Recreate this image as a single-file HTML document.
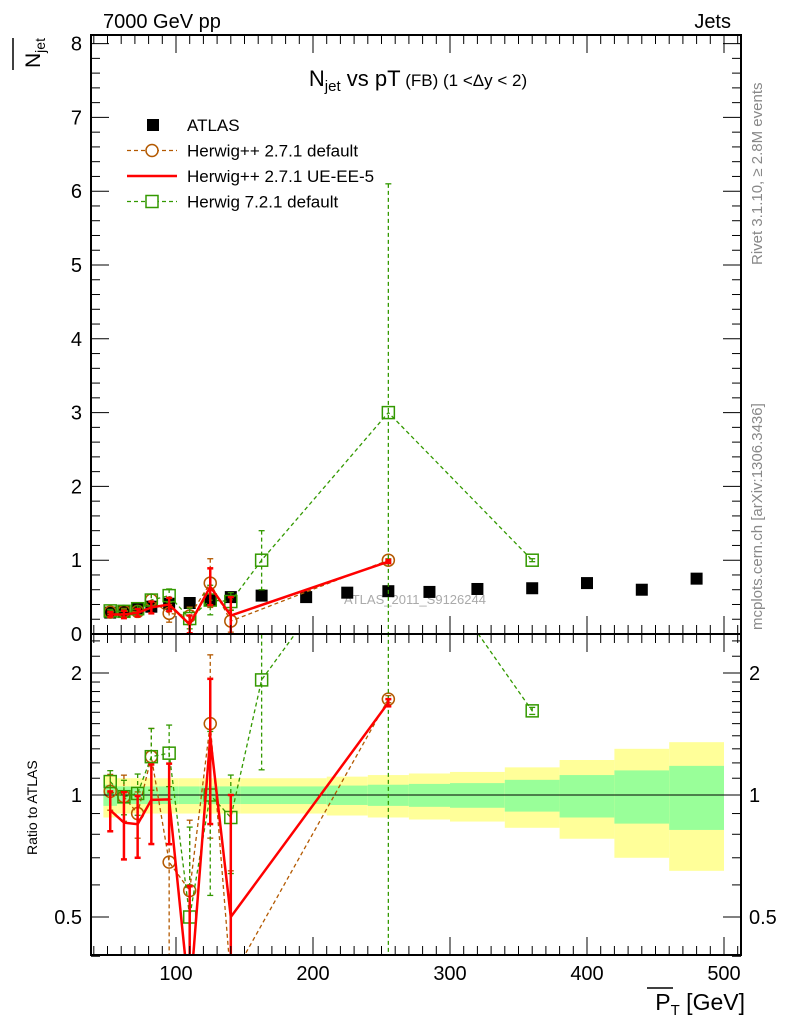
<!DOCTYPE html>
<html><head><meta charset="utf-8">
<style>
html,body{margin:0;padding:0;background:#fff;width:786px;height:1024px;overflow:hidden;}
svg{display:block;font-family:"Liberation Sans",sans-serif;}
</style></head>
<body>
<svg id="c" width="786" height="1024" viewBox="0 0 786 1024">
<defs>
<clipPath id="cm"><rect x="91" y="35" width="650" height="599"/></clipPath>
<clipPath id="cr"><rect x="91" y="634" width="650" height="321"/></clipPath>
</defs>
<text x="103" y="28" font-size="20">7000 GeV pp</text>
<text x="731" y="28" font-size="20" text-anchor="end">Jets</text>
<g>
<text transform="translate(40,68) rotate(-90)" font-size="21">N<tspan font-size="14" dy="5">jet</tspan></text>
<line x1="13" y1="38" x2="13" y2="70" stroke="#000" stroke-width="1.5"/>
</g>
<text transform="translate(762,265) rotate(-90)" font-size="15" fill="#888">Rivet 3.1.10, ≥ 2.8M events</text>
<text transform="translate(762,630) rotate(-90)" font-size="15" fill="#888">mcplots.cern.ch [arXiv:1306.3436]</text>
<text x="418" y="86" font-size="22" text-anchor="middle">N<tspan font-size="15" dy="5">jet</tspan><tspan dy="-5"> vs pT</tspan><tspan font-size="17"> (FB) (1 &lt;Δy &lt; 2)</tspan></text>
<text x="415" y="604" font-size="13" fill="#aaa" text-anchor="middle">ATLAS_2011_S9126244</text>
<text transform="translate(37,855) rotate(-90)" font-size="14">Ratio to ATLAS</text>
<g>
<text x="745" y="1010" font-size="23" text-anchor="end">P<tspan font-size="15" dy="5">T</tspan><tspan dy="-5"> [GeV]</tspan></text>
<line x1="647" y1="988" x2="673" y2="988" stroke="#000" stroke-width="1.5"/>
</g>
<g id="bands" clip-path="url(#cr)"></g>
<g id="marks"></g>
<g id="axes"></g>
<g id="legend"></g>
</svg>
<script>
const ns="http://www.w3.org/2000/svg";
const binEdges=[47,57,67,77,87,102,117,132,147,177,210,240,270,300,340,380,420,460,500];
const ptValues=[52,62,72,82,95,110,125,140,162.5,195,225,255,285,320,360,400,440,480];
const atlasValues=[0.29,0.31,0.34,0.37,0.41,0.42,0.46,0.5,0.52,0.5,0.56,0.58,0.57,0.61,0.62,0.69,0.6,0.75];
const bandYellow=[0.12,0.1,0.1,0.1,0.1,0.1,0.1,0.1,0.1,0.1,0.11,0.12,0.13,0.14,0.17,0.22,0.30,0.35];
const bandGreen=[0.06,0.05,0.05,0.05,0.05,0.05,0.05,0.05,0.05,0.05,0.055,0.06,0.065,0.07,0.09,0.12,0.15,0.18];
const hppPt=[52,62,72,82,95,110,125,140,255];
const hppDefault=[0.296,0.307,0.306,0.46,0.28,0.244,0.69,0.175,1.0];
const hppDefaultErr=[0.03,0.04,0.04,0.08,0.12,0.12,0.33,0.15,0.02];
const hppUE=[0.266,0.265,0.288,0.36,0.40,0.13,0.64,0.25,0.98];
const hppUEErr=[0.03,0.05,0.05,0.08,0.09,0.12,0.25,0.25,0.02];
const h7Pt=[52,62,72,82,95,110,125,140,162.5,255,360];
const h7Default=[0.313,0.307,0.343,0.46,0.52,0.21,0.46,0.44,1.0,3.0,1.0];
const h7Err=[0.02,0.03,0.04,0.08,0.09,0.14,0.2,0.12,0.4,3.1,0.02];
const mainTicks=[0,1,2,3,4,5,6,7,8];
const ratioTicks=[0.5,1,2];
const xTicks=[100,200,300,400,500];

const X=v=>39+v*1.37;
const Ym=v=>Math.min(640,634-v*73.8);
const Yr=r=>Math.min(1010,795-Math.log2(Math.max(r,0.01))*122);
function mk(t,a,p){const e=document.createElementNS(ns,t);for(const k in a)e.setAttribute(k,a[k]);(p||document.getElementById('marks')).appendChild(e);return e;}

const bg=document.getElementById('bands');
binEdges.slice(0,-1).forEach((e0,i)=>{
  const e1=binEdges[i+1];
  const y=mk('rect',{x:X(e0),width:X(e1)-X(e0),y:Yr(1+bandYellow[i]),height:Yr(1-bandYellow[i])-Yr(1+bandYellow[i]),fill:'#ffff99'},bg);
  
  
  const g=mk('rect',{x:X(e0),width:X(e1)-X(e0),y:Yr(1+bandGreen[i]),height:Yr(1-bandGreen[i])-Yr(1+bandGreen[i]),fill:'#99ff99'},bg);
  
  
});
mk('line',{x1:91,x2:741,y1:Yr(1),y2:Yr(1),stroke:'#000','stroke-width':1},bg);

const mg=document.getElementById('marks');
const gm=mk('g',{'clip-path':'url(#cm)'},mg);
const gr=mk('g',{'clip-path':'url(#cr)'},mg);
function atlasAt(p){return atlasValues[ptValues.indexOf(p)];}

function series(pts,vals,errs,color,dash,width,marker,name){
  [[gm,Ym],[gr,Yr]].forEach(([g,Y],k)=>{
    const ys=vals.map((v,i)=>k==0?v:v/atlasAt(pts[i]));
    const es=errs.map((e,i)=>k==0?e:e/atlasAt(pts[i]));
    const grp=mk('g',{},g);
    
    
    ys.forEach((v,i)=>{
      const x=X(pts[i]);
      mk('line',{x1:x,x2:x,y1:Y(v+es[i]),y2:Y(Math.max(v-es[i],0.001)),stroke:color,'stroke-width':width,'stroke-dasharray':dash},grp);
      mk('line',{x1:x-3,x2:x+3,y1:Y(v+es[i]),y2:Y(v+es[i]),stroke:color,'stroke-width':width},grp);
      if(v-es[i]>0)mk('line',{x1:x-3,x2:x+3,y1:Y(v-es[i]),y2:Y(v-es[i]),stroke:color,'stroke-width':width},grp);
    });
    mk('polyline',{points:ys.map((v,i)=>X(pts[i])+','+Y(v)).join(' '),fill:'none',stroke:color,'stroke-width':width,'stroke-dasharray':dash},grp);
    ys.forEach((v,i)=>{
      const x=X(pts[i]),y=Y(v);
      if(marker=='circle')mk('circle',{cx:x,cy:y,r:6,fill:'none',stroke:color,'stroke-width':1.5},grp);
      if(marker=='square')mk('rect',{x:x-6,y:y-6,width:12,height:12,fill:'none',stroke:color,'stroke-width':1.5},grp);
    });
  });
}
const ag=mk('g',{},gm);


ptValues.forEach((p,i)=>{mk('rect',{x:X(p)-6,y:Ym(atlasValues[i])-6,width:12,height:12,fill:'#000'},ag);});
series(hppPt,hppDefault,hppDefaultErr,'#b35900','4,3',1.3,'circle','herwigpp-default');
series(h7Pt,h7Default,h7Err,'#339900','4,3',1.3,'square','herwig7-default');
series(hppPt,hppUE,hppUEErr,'#ff0000','',2.5,'none','herwigpp-ue-ee-5');

const ax=document.getElementById('axes');
mk('rect',{x:91,y:35,width:650,height:920,fill:'none',stroke:'#000','stroke-width':2},ax);
mk('line',{x1:91,x2:741,y1:634,y2:634,stroke:'#000','stroke-width':2},ax);
for(let v=0;v<=8.001;v+=0.2){const y=Ym(v);const maj=Math.abs(v-Math.round(v))<0.01;const L=maj?18:9;
  mk('line',{x1:91,x2:91+L,y1:y,y2:y,stroke:'#000'},ax);mk('line',{x1:741,x2:741-L,y1:y,y2:y,stroke:'#000'},ax);}
mainTicks.forEach(t=>{const e=mk('text',{x:82,y:Ym(t)+7,'font-size':20,'text-anchor':'end'},ax);e.textContent=t;});
[0.4,0.6,0.7,0.8,0.9,1.1,1.2,1.3,1.4,1.5,1.6,1.7,1.8,1.9,2.2,2.4].forEach(r=>{const y=Yr(r);
  mk('line',{x1:91,x2:100,y1:y,y2:y,stroke:'#000'},ax);mk('line',{x1:741,x2:732,y1:y,y2:y,stroke:'#000'},ax);});
ratioTicks.forEach(t=>{const y=Yr(t);mk('line',{x1:91,x2:109,y1:y,y2:y,stroke:'#000'},ax);mk('line',{x1:741,x2:723,y1:y,y2:y,stroke:'#000'},ax);
  let e=mk('text',{x:82,y:y+7,'font-size':20,'text-anchor':'end'},ax);e.textContent=t;
  e=mk('text',{x:749,y:y+7,'font-size':20},ax);e.textContent=t;});
for(let v=40;v<=510;v+=10){const x=X(v);const maj=v%100==0;const L=maj?18:9;
  [35,634].forEach(y0=>mk('line',{x1:x,x2:x,y1:y0,y2:y0+L,stroke:'#000'},ax));
  [634,955].forEach(y0=>mk('line',{x1:x,x2:x,y1:y0,y2:y0-L,stroke:'#000'},ax));}
xTicks.forEach(t=>{const e=mk('text',{x:X(t),y:980,'font-size':20,'text-anchor':'middle'},ax);e.textContent=t;});

const lg=document.getElementById('legend');
const leg=[['ATLAS','#000','','atlas'],['Herwig++ 2.7.1 default','#b35900','4,3','circle'],['Herwig++ 2.7.1 UE-EE-5','#ff0000','','line'],['Herwig 7.2.1 default','#339900','4,3','square']];
leg.forEach((l,i)=>{const y=125+i*25.5;const g=mk('g',{},lg);
  
  
  if(l[3]=='atlas')mk('rect',{x:147,y:y-6,width:12,height:12,fill:'#000'},g);
  else{mk('line',{x1:127,x2:177,y1:y,y2:y,stroke:l[1],'stroke-width':l[3]=='line'?2.5:1.3,'stroke-dasharray':l[2]},g);
    if(l[3]=='circle')mk('circle',{cx:152,cy:y,r:6,fill:'#fff',stroke:l[1],'stroke-width':1.5},g);
    if(l[3]=='square')mk('rect',{x:146,y:y-6,width:12,height:12,fill:'#fff',stroke:l[1],'stroke-width':1.5},g);}
  const t=mk('text',{x:187,y:y+6,'font-size':17},g);t.textContent=l[0];});
</script>
</body></html>
